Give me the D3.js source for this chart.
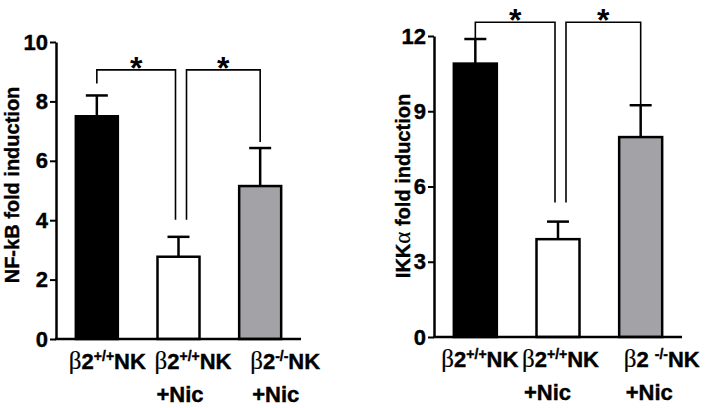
<!DOCTYPE html>
<html>
<head>
<meta charset="utf-8">
<script src="https://cdn.jsdelivr.net/npm/d3@7"></script>
<style>
  body { margin: 0; background: #fff; }
  svg { display: block; font-family: "Liberation Sans", Arial, sans-serif; font-weight: bold; }
  .heavy { stroke: #000; stroke-width: 0.4px; }
</style>
</head>
<body>
<svg id="chart" width="708" height="408"></svg>
<script>
// groups shared by both panels
const groups = ["wt", "wtNic", "koNic"]
const groupSup = ["+/+", "+/+", "-/-"]
const groupLine2 = ["", "+Nic", "+Nic"]

// NF-kB panel
const nfkbMean = [7.5, 2.77, 5.15]
const nfkbSem = [0.7, 0.67, 1.28]
const nfkbTicks = [0, 2, 4, 6, 8, 10]

// IKKa panel
const ikkMean = [10.9, 3.9, 7.97]
const ikkSem = [0.98, 0.7, 1.27]
const ikkTicks = [0, 3, 6, 9, 12]

// significance brackets: [from, to] group indices
const sigPairs = [[0, 1], [1, 2]]

const fills = ["#000", "#fff", "#a3a2a7"]
const svg = d3.select("#chart")

const drawPanel = opts => {
  const { mean, sem, ticks, yMax, x0, x1, y0, y1, barW, label, labelX, labelY,
          bracketVal, gaps, labelShift, koSpace } = opts
  const x = d3.scalePoint().domain(groups).range([x0, x1]).padding(0.5)
  const y = d3.scaleLinear().domain([0, yMax]).range([y0, y1])
  const g = svg.append("g")

  // error bars (upper only, bar hides the rest)
  groups.forEach((c, i) => {
    const cx = x(c)
    g.append("line").attr("x1", cx).attr("x2", cx)
      .attr("y1", y(mean[i])).attr("y2", y(mean[i] + sem[i]))
      .attr("stroke", "#000").attr("stroke-width", 2.5)
    g.append("line").attr("x1", cx - 11).attr("x2", cx + 11)
      .attr("y1", y(mean[i] + sem[i])).attr("y2", y(mean[i] + sem[i]))
      .attr("stroke", "#000").attr("stroke-width", 2.5)
  })

  // bars
  g.selectAll("rect.bar").data(groups).enter().append("rect")
    .attr("class", "bar")
    .attr("x", c => x(c) - barW / 2)
    .attr("width", barW)
    .attr("y", (c, i) => y(mean[i]))
    .attr("height", (c, i) => y(0) - y(mean[i]))
    .attr("fill", (c, i) => fills[i])
    .attr("stroke", "#000").attr("stroke-width", 2.5)

  // y axis
  const yAxis = g.append("g").attr("transform", `translate(${x0},0)`)
    .call(d3.axisLeft(y).tickValues(ticks).tickSize(6).tickSizeOuter(0).tickPadding(2))
  yAxis.select(".domain").attr("stroke-width", 2.5)
  yAxis.selectAll(".tick line").attr("stroke-width", 2)
  yAxis.selectAll(".tick text").attr("font-size", 22).attr("font-weight", "bold")
    .attr("font-family", "Liberation Sans, Arial, sans-serif").attr("fill", "#000")
    .attr("class", "heavy")

  // x axis line
  g.append("line").attr("x1", x0 - 1).attr("x2", x1).attr("y1", y0).attr("y2", y0)
    .attr("stroke", "#000").attr("stroke-width", 2.5)

  // y label
  const yl = g.append("text").attr("class", "heavy")
    .attr("transform", `translate(${labelX},${labelY}) rotate(-90)`)
    .attr("text-anchor", "middle").attr("font-size", 20)
  label.forEach(p => {
    const t = yl.append("tspan").text(p.t)
    if (p.greek) t.attr("font-family", "Liberation Serif, serif").attr("font-weight", "normal")
      .attr("font-size", 23).style("stroke-width", "0.2px")
  })

  // x labels
  groups.forEach((c, i) => {
    const sx = x(c) + labelShift[i]
    const t = g.append("text").attr("class", "heavy")
      .attr("x", sx).attr("y", y0 + 30).attr("font-size", 22)
    t.append("tspan").text("β").attr("font-family", "Liberation Serif, serif")
      .attr("font-weight", "normal").attr("font-size", 25).style("stroke-width", "0.2px")
    t.append("tspan").text(i === 2 && koSpace ? "2 " : "2")
    t.append("tspan").text(groupSup[i]).attr("font-size", 14).attr("dy", -8)
    t.append("tspan").text("NK").attr("dy", 8)
    if (groupLine2[i]) {
      g.append("text").attr("class", "heavy")
        .attr("x", sx + 2).attr("y", y0 + 63).attr("font-size", 22).text(groupLine2[i])
    }
  })

  // significance brackets
  const by = y(bracketVal)
  sigPairs.forEach(([a, b], k) => {
    const xa = x(groups[a]) + (a === 1 ? 8 : 0)
    const xb = x(groups[b]) + (b === 1 ? -3 : 0)
    const ya = y(mean[a] + sem[a]) - gaps[k][0]
    const yb = y(mean[b] + sem[b]) - gaps[k][1]
    g.append("path")
      .attr("d", `M${xa},${ya}V${by}H${xb}V${yb}`)
      .attr("fill", "none").attr("stroke", "#000").attr("stroke-width", 1.6)
    g.append("text").attr("x", (xa + xb) / 2).attr("y", by + 9)
      .attr("text-anchor", "middle").attr("font-size", 32).text("*")
  })
}

drawPanel({
  mean: nfkbMean, sem: nfkbSem, ticks: nfkbTicks, yMax: 10,
  x0: 56, x1: 301, y0: 339, y1: 42, barW: 42,
  label: [{ t: "NF-kB fold induction" }], labelX: 19, labelY: 185,
  bracketVal: 9.06, gaps: [[12, 17], [17, 6]],
  labelShift: [-28, -24, -10], koSpace: false
})

drawPanel({
  mean: ikkMean, sem: ikkSem, ticks: ikkTicks, yMax: 12,
  x0: 434, x1: 682, y0: 337, y1: 36, barW: 43,
  label: [{ t: "IKK" }, { t: "α", greek: true }, { t: " fold induction" }], labelX: 410, labelY: 186,
  bracketVal: 12.55, gaps: [[0, 19], [19, 0]],
  labelShift: [-34, -36, -17], koSpace: true
})
</script>
</body>
</html>
